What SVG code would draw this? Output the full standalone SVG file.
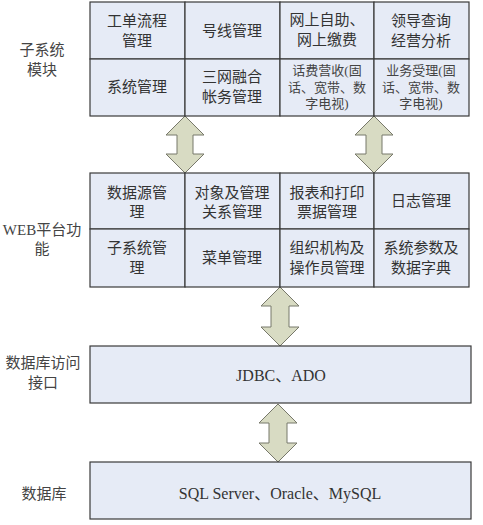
<svg xmlns="http://www.w3.org/2000/svg" width="483" height="525" viewBox="0 0 483 525">
<style>
.cell{fill:#e6ebf6;stroke:#3a3a3a;stroke-width:1.2}
.arr{fill:#d8dbc3;stroke:#77786a;stroke-width:1}
text{font-family:"Liberation Serif","Noto Sans CJK SC",serif;fill:#333;dominant-baseline:central;text-anchor:middle}
.t{font-size:15px}
.b{font-size:16px}
.s{font-size:13px;fill:#444}
.l{font-size:15px;fill:#444}
</style>
<rect width="483" height="525" fill="#fff"/>
<g id="labels">
<text class="l" x="42" y="50">子系统</text>
<text class="l" x="42" y="70">模块</text>
<text class="l" x="42" y="230">WEB平台功</text>
<text class="l" x="42" y="249">能</text>
<text class="l" x="43" y="363">数据库访问</text>
<text class="l" x="43" y="383">接口</text>
<text class="l" x="44" y="494">数据库</text>
</g>
<g id="connectors">
<path class="arr" d="M185,116 L204,135 L193,135 L193,154 L204,154 L185,173 L166,154 L177,154 L177,135 L166,135 Z"/>
<path class="arr" d="M374,116 L393,135 L382,135 L382,154 L393,154 L374,173 L355,154 L366,154 L366,135 L355,135 Z"/>
<path class="arr" d="M280,287 L299,306 L289,306 L289,327 L299,327 L280,346 L261,327 L271,327 L271,306 L261,306 Z"/>
<path class="arr" d="M278,404 L297,423 L287,423 L287,443 L297,443 L278,462 L259,443 L269,443 L269,423 L259,423 Z"/>
</g>
<g id="subsystem">
<g id="c11"><rect class="cell" x="90" y="2" width="95" height="57"/><text class="t" x="137" y="21">工单流程</text><text class="t" x="137" y="41">管理</text></g>
<g id="c12"><rect class="cell" x="185" y="2" width="95" height="57"/><text class="t" x="232" y="31">号线管理</text></g>
<g id="c13"><rect class="cell" x="280" y="2" width="94" height="57"/><text class="t" x="327" y="20">网上自助、</text><text class="t" x="327" y="40">网上缴费</text></g>
<g id="c14"><rect class="cell" x="374" y="2" width="95" height="57"/><text class="t" x="421" y="21">领导查询</text><text class="t" x="421" y="41">经营分析</text></g>
<g id="c21"><rect class="cell" x="90" y="59" width="95" height="57"/><text class="t" x="137" y="87">系统管理</text></g>
<g id="c22"><rect class="cell" x="185" y="59" width="95" height="57"/><text class="t" x="232" y="77">三网融合</text><text class="t" x="232" y="97">帐务管理</text></g>
<g id="c23"><rect class="cell" x="280" y="59" width="94" height="57"/><text class="s" x="327" y="70">话费营收(固</text><text class="s" x="327" y="87">话、宽带、数</text><text class="s" x="327" y="103">字电视)</text></g>
<g id="c24"><rect class="cell" x="374" y="59" width="95" height="57"/><text class="s" x="421" y="70">业务受理(固</text><text class="s" x="421" y="87">话、宽带、数</text><text class="s" x="421" y="103">字电视)</text></g>
</g>
<g id="web">
<g id="w11"><rect class="cell" x="90" y="173" width="95" height="56"/><text class="t" x="137" y="193">数据源管</text><text class="t" x="137" y="212">理</text></g>
<g id="w12"><rect class="cell" x="185" y="173" width="95" height="56"/><text class="t" x="232" y="193">对象及管理</text><text class="t" x="232" y="212">关系管理</text></g>
<g id="w13"><rect class="cell" x="280" y="173" width="94" height="56"/><text class="t" x="327" y="193">报表和打印</text><text class="t" x="327" y="212">票据管理</text></g>
<g id="w14"><rect class="cell" x="374" y="173" width="95" height="56"/><text class="t" x="421" y="201">日志管理</text></g>
<g id="w21"><rect class="cell" x="90" y="229" width="95" height="58"/><text class="t" x="137" y="248">子系统管</text><text class="t" x="137" y="268">理</text></g>
<g id="w22"><rect class="cell" x="185" y="229" width="95" height="58"/><text class="t" x="232" y="258">菜单管理</text></g>
<g id="w23"><rect class="cell" x="280" y="229" width="94" height="58"/><text class="t" x="327" y="248">组织机构及</text><text class="t" x="327" y="268">操作员管理</text></g>
<g id="w24"><rect class="cell" x="374" y="229" width="95" height="58"/><text class="t" x="421" y="248">系统参数及</text><text class="t" x="421" y="268">数据字典</text></g>
</g>
<g id="jdbc"><rect class="cell" x="90" y="346" width="381" height="57"/><text class="b" x="281" y="375">JDBC、ADO</text></g>
<g id="db"><rect class="cell" x="90" y="462" width="381" height="57"/><text class="b" x="280" y="493">SQL Server、Oracle、MySQL</text></g>
</svg>
